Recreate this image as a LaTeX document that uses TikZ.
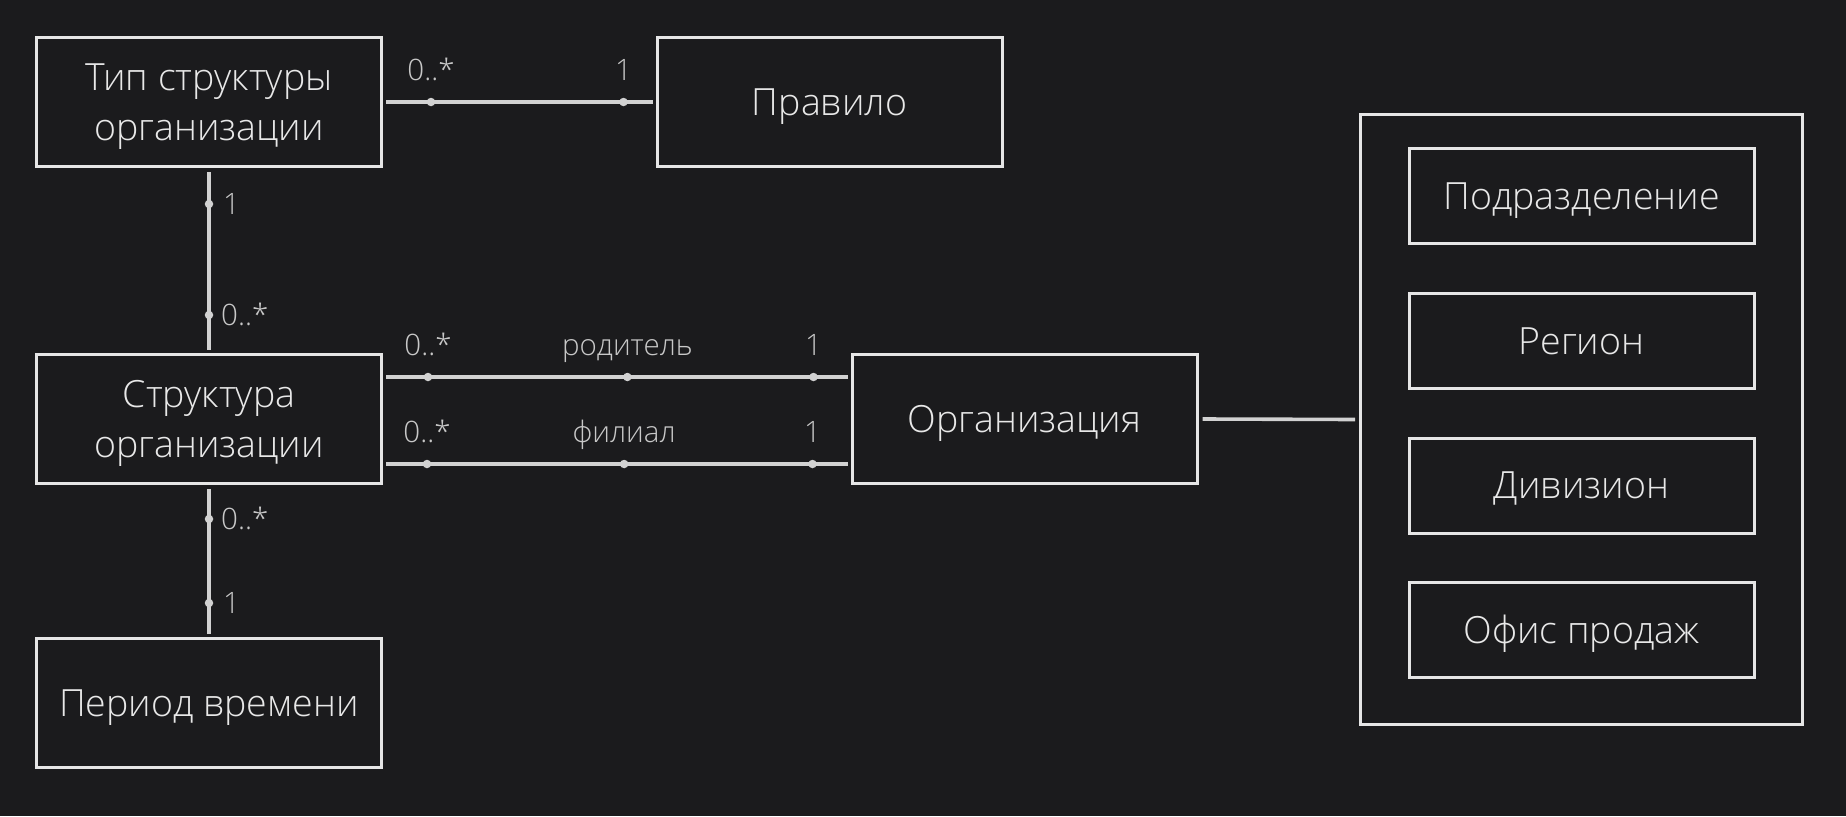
\documentclass[tikz,border=0pt]{standalone}
\usepackage{fontspec}
\setmainfont{Open Sans Light}
\usetikzlibrary{calc}
\definecolor{bg}{HTML}{1B1B1D}
\definecolor{edge}{HTML}{E6E6E6}
\definecolor{wire}{HTML}{D2D2D2}
\definecolor{lbltext}{HTML}{C8C8C8}
\definecolor{boxtext}{HTML}{E8E8E8}
\begin{document}
\begin{tikzpicture}[x=1pt,y=-1pt,
  entity/.style={draw=edge,line width=3pt,fill=bg,text=boxtext,minimum width=345pt,minimum height=129pt,inner sep=0pt,align=center,text height=26.5pt,text depth=0pt,font=\fontsize{37.5}{50}\selectfont},
  twoline/.style={text height=76.5pt},
  sub/.style={entity,minimum height=95pt},
  group/.style={draw=edge,line width=3pt,minimum width=442pt,minimum height=610pt,inner sep=0pt},
  wirel/.style={draw=wire,line width=3.6pt},
  dot/.style={circle,fill=wire,inner sep=0pt,minimum size=8.5pt},
  mult/.style={text=lbltext,inner sep=0pt,font=\fontsize{29.5}{34}\selectfont},
]
\useasboundingbox (0,0) rectangle (1846,816);
\fill[bg] (0,0) rectangle (1846,816);

\node[entity,twoline] (tip) at (209,102) {Тип структуры\\организации};
\node[entity] (rule) at (829.5,102) {Правило};
\node[entity,twoline] (str) at (209,419) {Структура\\организации};
\node[entity] (per) at (209,703) {Период времени};
\node[entity] (org) at (1024.5,419) {Организация};

\node[group] (grp) at (1581.5,419.5) {};
\node[sub] (s1) at (1581.5,196) {Подразделение};
\node[sub] (s2) at (1581.5,341) {Регион};
\node[sub] (s3) at (1581.5,485.5) {Дивизион};
\node[sub] (s4) at (1581.5,630) {Офис продаж};

% Тип структуры -- Правило
\coordinate (a1) at ($(tip.east)+(3,0)$);
\coordinate (a2) at ($(rule.west)+(-3,0)$);
\draw[wirel] (a1) -- (a2);
\node[dot] (ad1) at ($(a1)+(45,0)$) {};
\node[dot] (ad2) at ($(a2)+(-29,0)$) {};
\node[mult,anchor=base] at ($(ad1)+(0,-22)$) {0..*};
\node[mult,anchor=base] at ($(ad2)+(0,-22)$) {1};

% Тип структуры -- Структура
\coordinate (b1) at ($(tip.south)+(0,4)$);
\coordinate (b2) at ($(str.north)+(0,-3)$);
\draw[wirel] (b1) -- (b2);
\node[dot] (bd1) at ($(b1)+(0,32)$) {};
\node[dot] (bd2) at ($(b2)+(0,-35)$) {};
\node[mult,anchor=base west] at ($(bd1)+(14,10)$) {1};
\node[mult,anchor=base west] at ($(bd2)+(12,10)$) {0..*};

% Структура -- Период
\coordinate (c1) at ($(str.south)+(0,4)$);
\coordinate (c2) at ($(per.north)+(0,-3)$);
\draw[wirel] (c1) -- (c2);
\node[dot] (cd1) at ($(c1)+(0,30)$) {};
\node[dot] (cd2) at ($(c2)+(0,-31)$) {};
\node[mult,anchor=base west] at ($(cd1)+(12,10)$) {0..*};
\node[mult,anchor=base west] at ($(cd2)+(14,10)$) {1};

% Структура -- Организация (родитель)
\coordinate (p1) at ($(str.east)+(3,-42)$);
\coordinate (p2) at ($(org.west)+(-3,-42)$);
\draw[wirel] (p1) -- (p2);
\node[dot] (pd1) at ($(p1)+(42,0)$) {};
\node[dot] (pd2) at ($(p1)!0.523!(p2)$) {};
\node[dot] (pd3) at ($(p2)+(-34,0)$) {};
\node[mult,anchor=base] at ($(pd1)+(0,-22)$) {0..*};
\node[mult,anchor=base] at ($(pd2)+(0,-22)$) {родитель};
\node[mult,anchor=base] at ($(pd3)+(0,-22)$) {1};

% Структура -- Организация (филиал)
\coordinate (f1) at ($(str.east)+(3,45)$);
\coordinate (f2) at ($(org.west)+(-3,45)$);
\draw[wirel] (f1) -- (f2);
\node[dot] (fd1) at ($(f1)+(41,0)$) {};
\node[dot] (fd2) at ($(f1)!0.516!(f2)$) {};
\node[dot] (fd3) at ($(f2)+(-35,0)$) {};
\node[mult,anchor=base] at ($(fd1)+(0,-22)$) {0..*};
\node[mult,anchor=base] at ($(fd2)+(0,-22)$) {филиал};
\node[mult,anchor=base] at ($(fd3)+(0,-22)$) {1};

% Организация -- группа
\draw[wirel] ($(org.east)+(4,0)$) -- ($(grp.west)+(-4,0)$);
\end{tikzpicture}
\end{document}
